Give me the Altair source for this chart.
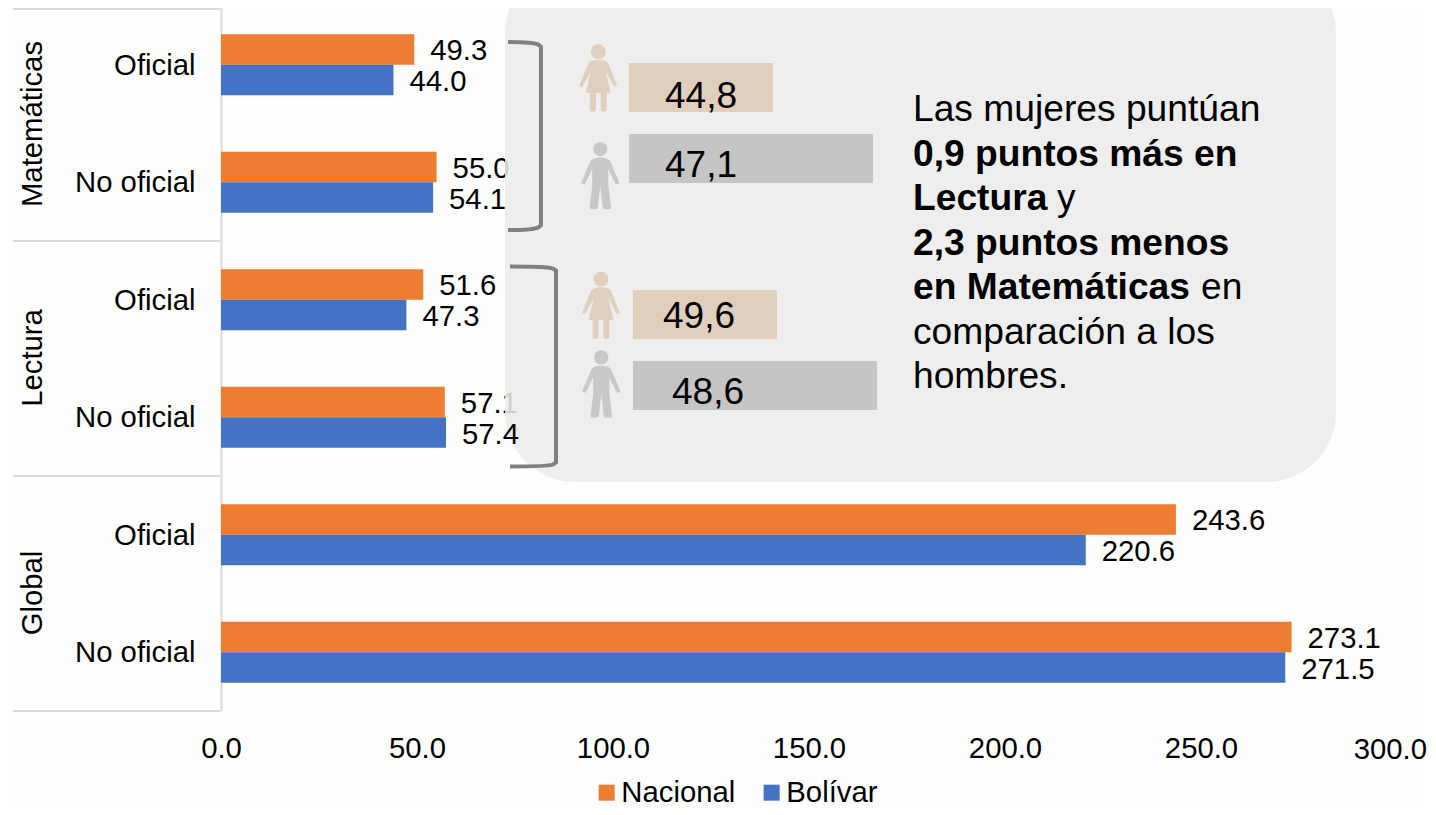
import altair as alt
import pandas as pd

FONT = "Liberation Sans"
areas = ["Matemáticas", "Matemáticas", "Lectura", "Lectura", "Global", "Global"]
sectors = ["Oficial", "No oficial", "Oficial", "No oficial", "Oficial", "No oficial"]
nacional = [49.3, 55.0, 51.6, 57.1, 243.6, 273.1]
bolivar = [44.0, 54.1, 47.3, 57.4, 220.6, 271.5]
series = ["Nacional", "Bolívar"]
colors = ["#ED7D31", "#4472C4"]
x_ticks = [0, 50, 100, 150, 200, 250]
keys = [f"{a}|{s}" for a, s in zip(areas, sectors)]

rows = []
for k, n, b in zip(keys, nacional, bolivar):
    rows.append({"key": k, "Serie": "Nacional", "value": n})
    rows.append({"key": k, "Serie": "Bolívar", "value": b})
df = pd.DataFrame(rows)

OX, OY = 221, 8
one = alt.Data(values=[{"a": 1}])
PX = lambda v: alt.value(v - OX)
PY = lambda v: alt.value(v - OY)

x_enc = alt.X(
    "value:Q",
    scale=alt.Scale(domain=[0, 300], nice=False),
    axis=alt.Axis(
        values=x_ticks, format=".1f", title=None, domain=False, ticks=False, grid=False,
        labelFont=FONT, labelFontSize=29.3, labelColor="#000", labelPadding=23,
        labelFlush=False, labelOverlap=False,
    ),
)
y_enc = alt.Y(
    "key:N",
    sort=keys,
    scale=alt.Scale(range=[-2, 703], paddingInner=0.479, paddingOuter=0.2395),
    axis=alt.Axis(
        title=None, ticks=False, grid=False, domainColor="#d9d9d9", domainWidth=2,
        labelExpr="split(datum.label,'|')[1]", labelFont=FONT, labelFontSize=29.3,
        labelColor="#000", labelPadding=26, labelLimit=300, labelOffset=1,
    ),
)
off = alt.YOffset("Serie:N", sort=series, scale=alt.Scale(domain=series))

base = alt.Chart(df)
bars = base.mark_bar(opacity=1).encode(
    x=x_enc, y=y_enc, yOffset=off,
    color=alt.Color(
        "Serie:N",
        scale=alt.Scale(domain=series, range=colors),
        legend=alt.Legend(
            title=None, orient="none", legendX=371, legendY=770, direction="horizontal",
            symbolType="square", symbolSize=256, symbolStrokeWidth=0, symbolOpacity=1,
            labelFont=FONT, labelFontSize=29.3, labelColor="#000", labelOffset=0,
            columnPadding=21, padding=0,
        ),
    ),
)
label_kw = dict(align="left", baseline="middle", dx=16, dy=2, font=FONT, fontSize=29.3, color="#000")
labels = base.transform_filter("datum.value != 57.4").mark_text(**label_kw).encode(
    x=x_enc, y=y_enc, yOffset=off, text=alt.Text("value:Q", format=".1f")
)
labels_top = base.transform_filter("datum.value == 57.4").mark_text(**label_kw).encode(
    x=x_enc, y=y_enc, yOffset=off, text=alt.Text("value:Q", format=".1f")
)
# last x tick label, kept inside the page's right edge
last_tick = alt.Chart(one).mark_text(
    text="300.0", align="right", baseline="middle", font=FONT, fontSize=29.3, color="#000"
).encode(x=PX(1427), y=PY(749.5))

# hierarchy separator lines
seps = [
    alt.Chart(one).mark_rule(color="#d9d9d9", strokeWidth=2).encode(
        x=PX(13), x2=PX(220), y=PY(yy)
    )
    for yy in [9, 241, 476, 711]
]
groups = [
    alt.Chart(one).mark_text(text=t, angle=270, align="center", baseline="middle", font=FONT,
                             fontSize=29.3, color="#000").encode(x=PX(33), y=PY(yy))
    for t, yy in [("Matemáticas", 124), ("Lectura", 358), ("Global", 593)]
]

panel = alt.Chart(one).mark_rect(cornerRadius=70, color="#ececec", opacity=0.88).encode(
    x=PX(505), x2=PX(1336), y=PY(-37), y2=PY(482)
)

brackets = [
    alt.Chart(one).mark_point(
        shape="M-.175 -1 Q.1 -1 .15 -.97 L.175 -.95 L.175 .95 L.15 .97 Q.1 1 -.175 1",
        filled=False, stroke="#808080", strokeWidth=4, opacity=1, size=188**2,
    ).encode(x=PX(524.5), y=PY(136)),
    alt.Chart(one).mark_point(
        shape="M-.23 -1 Q.15 -1 .2 -.98 L.23 -.96 L.23 .96 L.2 .98 Q.15 1 -.23 1",
        filled=False, stroke="#808080", strokeWidth=4, opacity=1, size=200**2,
    ).encode(x=PX(533), y=PY(366.5)),
]

boxes = [
    alt.Chart(one).mark_rect(color=c, opacity=1).encode(x=PX(x0), x2=PX(x1), y=PY(y0), y2=PY(y1))
    for x0, x1, y0, y1, c in [
        (629, 773, 63, 112, "#dfcfbc"),
        (629, 873, 134, 183, "#c5c5c5"),
        (633, 777, 290, 339, "#dfcfbc"),
        (633, 877, 361, 410, "#c5c5c5"),
    ]
]
box_text = [
    alt.Chart(one).mark_text(text=t, align="left", baseline="alphabetic", font=FONT, fontSize=37,
                             color="#000").encode(x=PX(xx), y=PY(yy))
    for t, xx, yy in [("44,8", 665, 108), ("47,1", 665, 177), ("49,6", 663, 328), ("48,6", 672, 404)]
]

WOMAN = ("M-.2 -.51 Q0 -.56 .2 -.51 Q.28 -.48 .32 -.38 L.55 .2 Q.56 .26 .5 .26 Q.46 .26 .44 .2 "
         "L.22 -.2 L.37 .44 L.25 .44 L.25 .92 Q.25 1 .17 1 Q.07 1 .07 .92 L.07 .44 L-.07 .44 "
         "L-.07 .92 Q-.07 1 -.17 1 Q-.25 1 -.25 .92 L-.25 .44 L-.37 .44 L-.22 -.2 L-.44 .2 "
         "Q-.46 .26 -.5 .26 Q-.56 .26 -.55 .2 L-.32 -.38 Q-.28 -.48 -.2 -.51 Z "
         "M-.22 -.78 A.22 .22 0 1 1 .22 -.78 A.22 .22 0 1 1 -.22 -.78 Z")
MAN = ("M-.18 -.52 Q0 -.56 .18 -.52 Q.27 -.49 .31 -.4 L.56 .2 Q.57 .26 .5 .26 Q.46 .26 .43 .2 "
       "L.24 -.2 L.24 .3 L.32 .94 Q.33 1 .26 1 L.14 1 Q.08 1 .07 .94 L0 .3 L-.07 .94 Q-.08 1 -.14 1 "
       "L-.26 1 Q-.33 1 -.32 .94 L-.24 .3 L-.24 -.2 L-.43 .2 Q-.46 .26 -.5 .26 Q-.57 .26 -.56 .2 "
       "L-.31 -.4 Q-.27 -.49 -.18 -.52 Z M-.21 -.79 A.21 .21 0 1 1 .21 -.79 A.21 .21 0 1 1 -.21 -.79 Z")
icons = [
    alt.Chart(one).mark_point(shape=p, filled=True, color=c, opacity=1, size=67.3**2, strokeWidth=0).encode(
        x=PX(xx), y=PY(yy)
    )
    for p, c, xx, yy in [
        (WOMAN, "#dfcfbc", 598.3, 78),
        (MAN, "#c8c8c8", 600.3, 175.7),
        (WOMAN, "#dfcfbc", 601, 305.3),
        (MAN, "#c8c8c8", 601.3, 384),
    ]
]

LH = 44.5
BASE = 121
text_parts = [
    ("Las mujeres puntúan", 913, 0, "normal"),
    ("0,9 puntos más en", 913, 1, "bold"),
    ("Lectura", 913, 2, "bold"),
    ("y", 1057, 2, "normal"),
    ("2,3 puntos menos", 913, 3, "bold"),
    ("en Matemáticas", 913, 4, "bold"),
    ("en", 1201, 4, "normal"),
    ("comparación a los", 913, 5, "normal"),
    ("hombres.", 913, 6, "normal"),
]
note = [
    alt.Chart(one).mark_text(text=t, align="left", baseline="alphabetic", font=FONT, fontSize=37.2,
                             fontWeight=w, color="#000").encode(x=PX(xx), y=PY(BASE + LH * i))
    for t, xx, i, w in text_parts
]

chart = alt.layer(
    *seps, bars, labels, panel, *brackets, *boxes, *box_text, *icons, *note, labels_top, *groups, last_tick
).properties(
    width=1176,
    height=703,
    padding={"left": 213, "top": 0, "right": 31, "bottom": 96},
    autosize=alt.AutoSizeParams(type="none"),
    background="#fefefd",
).configure_view(stroke=None)

chart.save("out.html", embed_options={"renderer": "svg", "actions": False})
